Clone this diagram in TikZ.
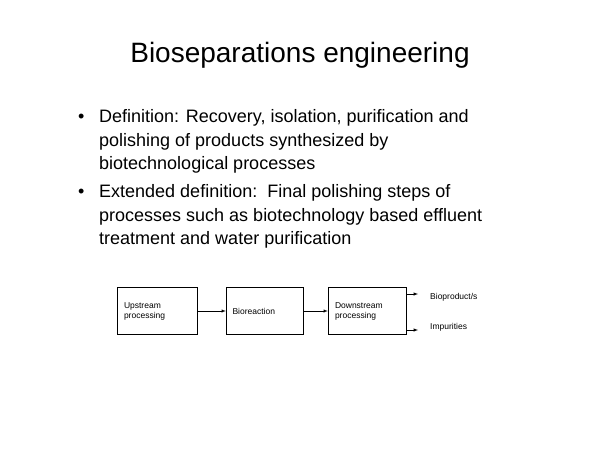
\documentclass[tikz,border=0pt]{standalone}
\usepackage{fontspec}
\setmainfont{Liberation Sans}
\usetikzlibrary{positioning,arrows}
\tikzset{stage/.style={draw,rectangle,minimum width=80pt,minimum height=47pt,text width=66pt,align=left,font=\fontsize{8.5}{10}\selectfont}}
\tikzset{flow/.style={draw,line width=0.5pt,-latex}}
\tikzset{result/.style={anchor=west,inner sep=0pt,font=\fontsize{8.5}{10}\selectfont}}
\tikzset{line/.style={anchor=west,inner sep=0pt,font=\fontsize{18}{20}\selectfont}}

\begin{document}
\begin{tikzpicture}[x=1pt,y=-1pt]
    \useasboundingbox (0,0) rectangle (600,450);
    \node[font=\fontsize{28}{30}\selectfont] (title) at (300,55) {Bioseparations engineering};

    \node[line] (b1) at (78,118) {•};
    \node[line] (l1) at (99,118) {Definition: Recovery, isolation, purification and};
    \node[line] (l2) at (99,142) {polishing of products synthesized by};
    \node[line] (l3) at (99,165) {biotechnological processes};
    \node[line] (b2) at (78,193) {•};
    \node[line] (l4) at (99,193) {Extended definition:\ \ Final polishing steps of};
    \node[line] (l5) at (99,217) {processes such as biotechnology based effluent};
    \node[line] (l6) at (99,240) {treatment and water purification};

    \node[stage] (up) at (157,311) {Upstream\\processing};
    \node[stage,minimum width=77pt,text width=64pt] (bio) at (264.5,311) {Bioreaction};
    \node[stage,minimum width=78pt,text width=64pt] (down) at (367,311) {Downstream\\processing};

    \coordinate (o1) at (418,294);
    \coordinate (o2) at (418,330);
    \node[result] (prod) at (430,297) {Bioproduct/s};
    \node[result] (imp) at (430,327) {Impurities};

        \path[flow] (up) -- (bio);
        \path[flow] (bio) -- (down);
        \path[flow] (down.east |- o1) -- (o1);
        \path[flow] (down.east |- o2) -- (o2);
\end{tikzpicture}
\end{document}
